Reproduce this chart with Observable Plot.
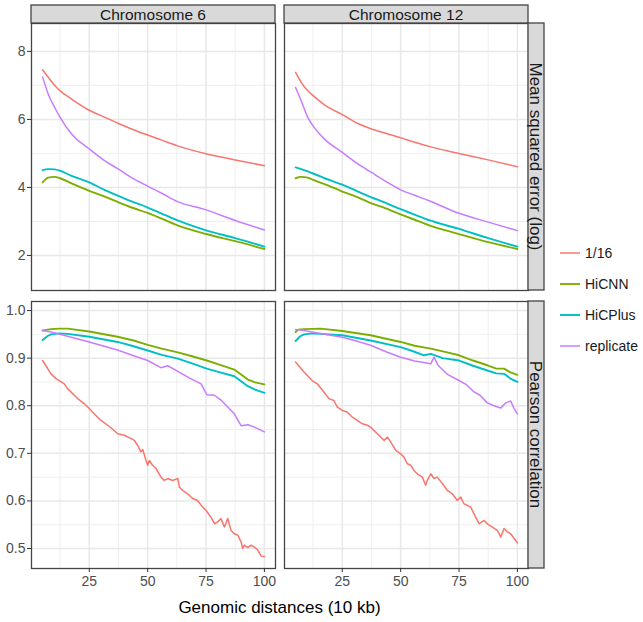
<!DOCTYPE html>
<html><head><meta charset="utf-8">
<script src="https://cdn.jsdelivr.net/npm/d3@7"></script>
<script src="https://cdn.jsdelivr.net/npm/@observablehq/plot@0.6"></script>
<style>
body{margin:0;background:#fff;}
#chart{position:relative;width:643px;height:622px;font-family:"Liberation Sans",Arial,sans-serif;}
#chart svg{position:absolute;left:0;top:0;}
</style></head><body><div id="chart"></div>
<script>
// ---------- data ----------
const series = ["1/16", "HiCNN", "HiCPlus", "replicate"];
const colors = ["#F8766D", "#7CAE00", "#00BFC4", "#C77CFF"];
const chromosomes = ["Chromosome 6", "Chromosome 12"];
const metrics = ["Mean squared error (log)", "Pearson correlation"];
const xTicks = [25, 50, 75, 100];
const xMinor = [12.5, 37.5, 62.5, 87.5];
const mseTicks = [2, 4, 6, 8];
const mseMinor = [3, 5, 7];
const pearsonTicks = [0.5, 0.6, 0.7, 0.8, 0.9, 1.0];
const pearsonMinor = [0.55, 0.65, 0.75, 0.85, 0.95];
const xTitle = "Genomic distances (10 kb)";

// Mean squared error (log), sampled at these distances
const mseX = [5, 7.4, 10.2, 12.5, 17.4, 25, 31.7, 37.5, 43.1, 50, 56, 62.5, 75, 87.5, 100];
const chr6Mse_116 = [7.46, 7.24, 7.00, 6.84, 6.60, 6.27, 6.06, 5.88, 5.72, 5.54, 5.39, 5.23, 4.99, 4.81, 4.64];
const chr6Mse_HiCNN = [4.15, 4.29, 4.31, 4.27, 4.12, 3.90, 3.73, 3.56, 3.41, 3.25, 3.08, 2.89, 2.63, 2.42, 2.19];
const chr6Mse_HiCPlus = [4.51, 4.54, 4.53, 4.49, 4.34, 4.15, 3.92, 3.75, 3.59, 3.41, 3.23, 3.04, 2.74, 2.51, 2.26];
const chr6Mse_replicate = [7.25, 6.75, 6.35, 6.06, 5.57, 5.13, 4.78, 4.54, 4.29, 4.04, 3.83, 3.59, 3.34, 3.03, 2.75];
const chr12Mse_116 = [7.38, 7.09, 6.84, 6.70, 6.43, 6.14, 5.88, 5.72, 5.60, 5.46, 5.33, 5.20, 5.00, 4.81, 4.61];
const chr12Mse_HiCNN = [4.27, 4.31, 4.29, 4.22, 4.10, 3.88, 3.71, 3.53, 3.40, 3.21, 3.05, 2.88, 2.63, 2.39, 2.19];
const chr12Mse_HiCPlus = [4.59, 4.54, 4.47, 4.41, 4.27, 4.08, 3.88, 3.71, 3.56, 3.36, 3.20, 3.03, 2.78, 2.51, 2.26];
const chr12Mse_replicate = [6.94, 6.55, 6.06, 5.81, 5.42, 5.03, 4.69, 4.44, 4.20, 3.93, 3.77, 3.60, 3.24, 2.98, 2.73];

// Pearson correlation, [distance, value]
const chr6Pcc_116 = [[5,0.895],[8.6,0.867],[10.7,0.857],[14.3,0.846],[15.7,0.836],[20,0.815],[22.9,0.804],[25,0.794],[27.1,0.783],[30,0.769],[32.9,0.759],[35.7,0.748],[37.1,0.741],[40,0.738],[42.9,0.731],[44.3,0.727],[45.7,0.717],[47.1,0.703],[47.9,0.708],[49.3,0.685],[50,0.675],[50.7,0.685],[52.1,0.675],[53.6,0.668],[55.7,0.650],[57.1,0.643],[58.6,0.647],[60.7,0.643],[62.9,0.647],[63.6,0.629],[65,0.622],[67.1,0.615],[69.3,0.605],[71.4,0.601],[72.9,0.591],[75,0.580],[77.1,0.566],[78.6,0.552],[80,0.556],[81.4,0.563],[82.9,0.545],[84.3,0.563],[85.7,0.538],[87.1,0.531],[88.6,0.528],[90,0.514],[90.7,0.500],[91.4,0.507],[92.9,0.502],[94.3,0.507],[95.7,0.503],[97.1,0.497],[98.6,0.484],[100,0.483]];
const chr6Pcc_HiCNN = [[5,0.958],[8.6,0.961],[12.1,0.962],[15.7,0.962],[25,0.956],[37.1,0.945],[44,0.937],[50,0.928],[56,0.920],[62.9,0.912],[69,0.904],[75.3,0.895],[81,0.886],[87.1,0.876],[92.9,0.855],[96,0.849],[100,0.845]];
const chr6Pcc_HiCPlus = [[5,0.938],[7,0.946],[8.6,0.950],[12.1,0.952],[15.7,0.951],[25,0.945],[37.1,0.934],[44,0.925],[50,0.916],[56,0.907],[62.9,0.899],[69,0.889],[75.3,0.878],[81,0.870],[87.1,0.862],[92.9,0.841],[96,0.834],[100,0.827]];
const chr6Pcc_replicate = [[5,0.958],[8.6,0.955],[15.7,0.946],[25,0.934],[37.1,0.917],[44,0.905],[50,0.895],[55.7,0.880],[58.6,0.884],[62.9,0.872],[68,0.858],[72.9,0.846],[75.3,0.823],[78.6,0.822],[81.4,0.812],[87.1,0.783],[90,0.758],[93,0.760],[95.7,0.755],[100,0.745]];
const chr12Pcc_116 = [[5,0.892],[8.6,0.871],[12.1,0.853],[14.3,0.846],[17.1,0.829],[19.3,0.815],[21.4,0.811],[22.9,0.797],[25,0.790],[27.1,0.787],[29.3,0.776],[31.4,0.769],[33.6,0.762],[35.7,0.759],[37.1,0.755],[40,0.741],[42.9,0.727],[44.3,0.734],[45.7,0.724],[47.9,0.706],[50,0.699],[51.4,0.692],[52.9,0.678],[54.3,0.675],[55.7,0.664],[57.1,0.657],[59.3,0.650],[60.7,0.633],[61.4,0.643],[62.9,0.657],[64.3,0.647],[65.7,0.650],[67.9,0.636],[70,0.622],[72.1,0.615],[74.3,0.601],[75.7,0.608],[77.1,0.594],[80,0.587],[82.1,0.566],[83.6,0.552],[85.7,0.559],[87.1,0.552],[89.3,0.545],[91.4,0.538],[92.9,0.524],[94.3,0.542],[95.7,0.535],[97.1,0.531],[98.6,0.521],[100,0.512]];
const chr12Pcc_HiCNN = [[5,0.955],[6,0.960],[8.6,0.961],[15.7,0.962],[25,0.957],[37.1,0.948],[50,0.934],[56,0.926],[62.9,0.920],[69,0.913],[75,0.906],[81,0.895],[87.1,0.885],[91,0.878],[94.3,0.878],[97,0.870],[100,0.865]];
const chr12Pcc_HiCPlus = [[5,0.936],[7,0.946],[8.6,0.950],[12.1,0.952],[25,0.948],[37.1,0.937],[50,0.923],[55,0.915],[60,0.906],[62.9,0.909],[68,0.900],[75,0.895],[81,0.884],[87.1,0.874],[91,0.868],[94.3,0.867],[97,0.857],[100,0.850]];
const chr12Pcc_replicate = [[5,0.960],[8.6,0.958],[15.7,0.952],[25,0.944],[31,0.936],[37.1,0.927],[44,0.913],[50,0.902],[56,0.894],[62.9,0.888],[64.3,0.902],[66,0.885],[70,0.866],[75,0.853],[78,0.845],[81.4,0.829],[84,0.822],[87.1,0.806],[90,0.800],[92.9,0.795],[95,0.806],[97.1,0.810],[98.5,0.795],[100,0.783]];

// ---------- build table ----------
const table = [];
function addMse(chrom, s, ys) { ys.forEach((y, i) => table.push({chrom, metric: metrics[0], series: s, x: mseX[i], y})); }
function addPcc(chrom, s, pts) { pts.forEach(([x, y]) => table.push({chrom, metric: metrics[1], series: s, x, y})); }
addMse(chromosomes[0], series[0], chr6Mse_116);
addMse(chromosomes[0], series[1], chr6Mse_HiCNN);
addMse(chromosomes[0], series[2], chr6Mse_HiCPlus);
addMse(chromosomes[0], series[3], chr6Mse_replicate);
addMse(chromosomes[1], series[0], chr12Mse_116);
addMse(chromosomes[1], series[1], chr12Mse_HiCNN);
addMse(chromosomes[1], series[2], chr12Mse_HiCPlus);
addMse(chromosomes[1], series[3], chr12Mse_replicate);
addPcc(chromosomes[0], series[0], chr6Pcc_116);
addPcc(chromosomes[0], series[1], chr6Pcc_HiCNN);
addPcc(chromosomes[0], series[2], chr6Pcc_HiCPlus);
addPcc(chromosomes[0], series[3], chr6Pcc_replicate);
addPcc(chromosomes[1], series[0], chr12Pcc_116);
addPcc(chromosomes[1], series[1], chr12Pcc_HiCNN);
addPcc(chromosomes[1], series[2], chr12Pcc_HiCPlus);
addPcc(chromosomes[1], series[3], chr12Pcc_replicate);

// ---------- layout ----------
const W = 643, H = 622;
const cols = [[31, 275], [284, 528]];
const rows = [[23, 290], [301, 568]];
const xDomain = [0.25, 104.75];
const yDomains = [[0.97, 8.82], [0.458, 1.019]];
const lineWidths = [1.5, 1.9, 1.9, 1.5];
const FONT = "'Liberation Sans', Arial, Helvetica, sans-serif";
const chart = document.getElementById("chart");

function panel(ci, ri) {
  const [x0, x1] = cols[ci], [y0, y1] = rows[ri];
  const mse = ri === 0;
  const yTicks = mse ? mseTicks : pearsonTicks;
  const yMinor = mse ? mseMinor : pearsonMinor;
  const d = table.filter(r => r.chrom === chromosomes[ci] && r.metric === metrics[ri]);
  const marks = [
    Plot.gridX(xMinor, {stroke: "#EBEBEB", strokeOpacity: 1, strokeWidth: 0.8}),
    Plot.gridY(yMinor, {stroke: "#EBEBEB", strokeOpacity: 1, strokeWidth: 0.8}),
    Plot.gridX(xTicks, {stroke: "#E8E8E8", strokeOpacity: 1, strokeWidth: 1.5}),
    Plot.gridY(yTicks, {stroke: "#E8E8E8", strokeOpacity: 1, strokeWidth: 1.5}),
    ...series.map((s, i) => Plot.line(d.filter(r => r.series === s), {
      x: "x", y: "y", stroke: "series", strokeWidth: lineWidths[i],
      curve: mse ? "monotone-x" : "linear"
    })),
    Plot.frame({stroke: "#444", strokeWidth: 1.3})
  ];
  if (ci === 0) marks.push(Plot.axisY(yTicks, {
    tickSize: 4, tickPadding: 2, fontSize: 14, color: "#4d4d4d", stroke: "#333",
    label: null, tickFormat: mse ? d3.format("d") : d3.format(".1f")
  }));
  if (ri === 1) marks.push(Plot.axisX(xTicks, {
    tickSize: 4, tickPadding: 4, fontSize: 14, color: "#4d4d4d", stroke: "#333",
    label: null, tickFormat: d3.format("d")
  }));
  return Plot.plot({
    width: W, height: H,
    marginLeft: x0, marginRight: W - x1, marginTop: y0, marginBottom: H - y1,
    x: {domain: xDomain, axis: null},
    y: {domain: yDomains[ri], axis: null},
    color: {domain: series, range: colors},
    style: `background:transparent;overflow:visible;font-family:${FONT};`,
    marks
  });
}

for (let ri = 0; ri < 2; ri++) for (let ci = 0; ci < 2; ci++) chart.appendChild(panel(ci, ri));

// ---------- strips, legend, title ----------
const svg = d3.select(chart).append("svg")
  .attr("width", W).attr("height", H)
  .style("font-family", FONT);

cols.forEach(([a, b], i) => {
  svg.append("rect").attr("x", a).attr("y", 5).attr("width", b - a).attr("height", 18)
    .attr("fill", "#D9D9D9").attr("stroke", "#444").attr("stroke-width", 1.3);
  svg.append("text").attr("x", (a + b) / 2).attr("y", 20)
    .attr("text-anchor", "middle").attr("font-size", 15.5).attr("fill", "#1a1a1a")
    .text(chromosomes[i]);
});
rows.forEach(([a, b], i) => {
  svg.append("rect").attr("x", cols[1][1]).attr("y", a).attr("width", 16).attr("height", b - a)
    .attr("fill", "#D9D9D9").attr("stroke", "#444").attr("stroke-width", 1.3);
  svg.append("text")
    .attr("transform", `translate(${cols[1][1] + 8},${(a + b) / 2}) rotate(90)`)
    .attr("text-anchor", "middle").attr("dy", "0.36em")
    .attr("font-size", 17).attr("fill", "#1a1a1a")
    .text(metrics[i]);
});

const legendY0 = 253, legendStep = 31;
series.forEach((s, i) => {
  const y = legendY0 + i * legendStep;
  svg.append("line").attr("x1", 560).attr("x2", 580).attr("y1", y).attr("y2", y)
    .attr("stroke", colors[i]).attr("stroke-width", lineWidths[i]);
  svg.append("text").attr("x", 585).attr("y", y).attr("dy", "0.36em")
    .attr("font-size", 14).attr("fill", "#1a1a1a").text(s);
});

svg.append("text").attr("x", (cols[0][0] + cols[1][1]) / 2).attr("y", 613)
  .attr("text-anchor", "middle").attr("font-size", 17).attr("fill", "#000")
  .text(xTitle);
</script></body></html>
